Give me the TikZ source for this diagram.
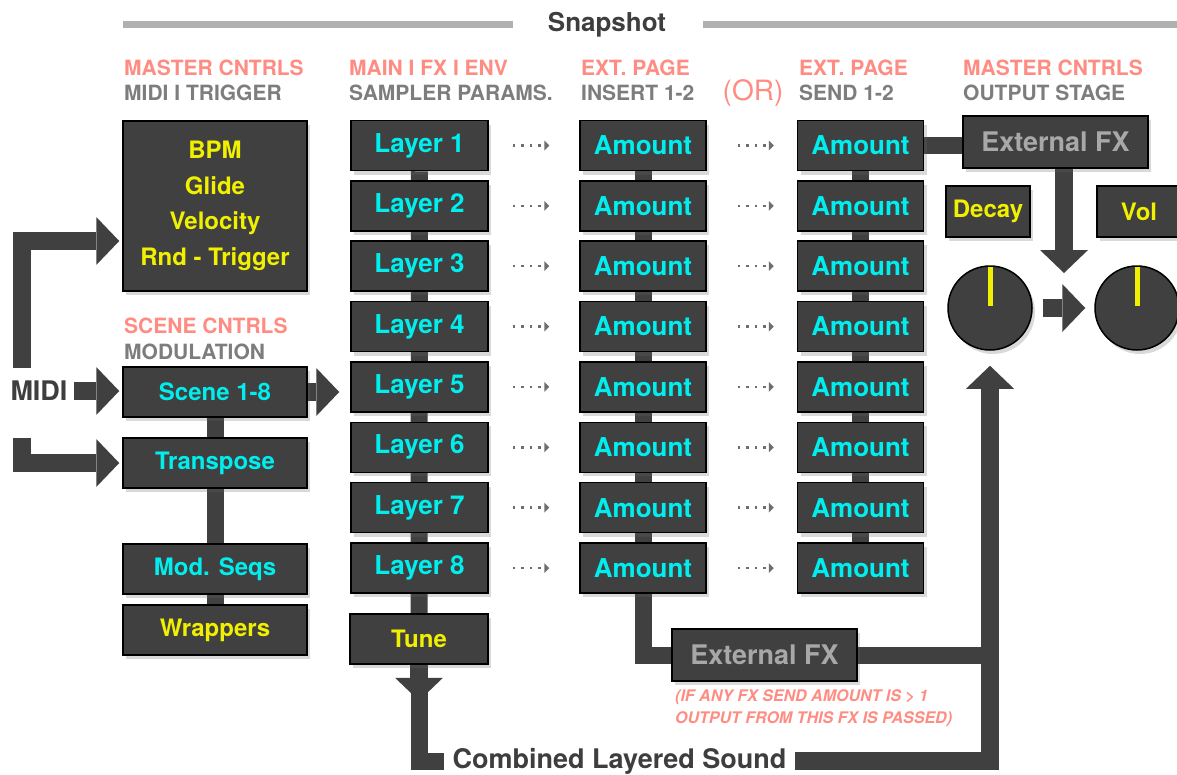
\documentclass[tikz,border=0pt]{standalone}
\usepackage{fontspec}
\setmainfont{TeX Gyre Heros}
\usetikzlibrary{arrows.meta, shadows, backgrounds}
\definecolor{boxgray}{RGB}{64,64,64}
\definecolor{darktext}{RGB}{62,62,62}
\definecolor{mysalmon}{RGB}{255,140,130}
\definecolor{mygray}{RGB}{125,125,125}
\definecolor{mycyan}{RGB}{0,238,238}
\definecolor{myyellow}{RGB}{240,240,0}
\definecolor{fxgray}{RGB}{168,168,168}
\definecolor{linegray}{RGB}{176,176,176}
\definecolor{dotgray}{RGB}{110,110,110}
\newcommand{\fsz}[1]{\fontsize{#1}{#1}\selectfont}
\tikzset{
  box/.style={draw=black, line width=1.5pt, fill=boxgray, inner sep=0pt,
    font=\bfseries\fsz{24},
    drop shadow={opacity=0.25, fill=black!60, shadow xshift=3pt, shadow yshift=-4pt}},
  layerbox/.style={box, minimum width=137pt, minimum height=50pt, text=mycyan, font=\bfseries\fsz{26}},
  amountbox/.style={box, minimum width=126pt, minimum height=50pt, text=mycyan, font=\bfseries\fsz{26}},
  leftbox/.style={box, minimum width=184pt, minimum height=50pt},
  fxbox/.style={box, minimum width=185pt, minimum height=52pt, text=fxgray, font=\bfseries\fsz{27}},
  knob/.style={circle, draw=black, line width=1.5pt, fill=boxgray, minimum size=84pt, inner sep=0pt,
    drop shadow={opacity=0.25, fill=black!60, shadow xshift=3pt, shadow yshift=-4pt}},
  knobmark/.style={draw=myyellow, line width=5pt},
  hdr/.style={anchor=west, inner sep=0pt, font=\bfseries\fsz{21}},
  bar/.style={draw=boxgray, line width=17pt, line join=miter},
  fatarrow/.style={draw=boxgray, line width=18pt, line join=miter,
    -{Triangle[length=23pt, width=48pt, line width=0pt]}},
  dotarrow/.style={draw=dotgray, line width=2.5pt, dash pattern=on 2.5pt off 6pt,
    -{Triangle[length=5pt, width=10pt, line width=0pt]}},
  topline/.style={draw=linegray, line width=7pt}
}

\begin{document}
\begin{tikzpicture}[x=1pt, y=-1pt]
\useasboundingbox (0,0) rectangle (1177,774);

% title
\node[font=\bfseries\fsz{26}, text=darktext, inner sep=0pt, anchor=base] (snap) at (607,31.7) {Snapshot};
\draw[topline] ([xshift=-35pt]snap.west) -- ++(-390,0);
\draw[topline] ([xshift=37pt]snap.east) -- ++(480,0);

% column headers
\node[hdr, text=mysalmon] at (124,68) {MASTER CNTRLS};
\node[hdr, text=mygray] at (124,93) {MIDI I TRIGGER};
\node[hdr, text=mysalmon] at (349,68) {MAIN I FX I ENV};
\node[hdr, text=mygray] at (349,93) {SAMPLER PARAMS.};
\node[hdr, text=mysalmon] at (581,68) {EXT. PAGE};
\node[hdr, text=mygray] at (581,93) {INSERT 1-2};
\node[text=mysalmon, inner sep=0pt, font=\fsz{28}] at (753,93) {(OR)};
\node[hdr, text=mysalmon] at (799,68) {EXT. PAGE};
\node[hdr, text=mygray] at (799,93) {SEND 1-2};
\node[hdr, text=mysalmon] at (963,68) {MASTER CNTRLS};
\node[hdr, text=mygray] at (963,93) {OUTPUT STAGE};
\node[hdr, text=mysalmon] at (124,326) {SCENE CNTRLS};
\node[hdr, text=mygray] at (124,352) {MODULATION};

% left column
\node[leftbox, minimum height=170pt, text=myyellow, align=center,
  font=\bfseries\fontsize{24}{35.7}\selectfont] (master) at (215,206) {BPM\\Glide\\Velocity\\Rnd - Trigger};
\node[leftbox, text=mycyan] (scene) at (215,392) {Scene 1-8};
\node[leftbox, text=mycyan] (transpose) at (215,463) {Transpose};
\node[leftbox, text=mycyan] (modseq) at (215,569) {Mod. Seqs};
\node[leftbox, text=myyellow] (wrappers) at (215,630) {Wrappers};
\node[font=\bfseries\fsz{27}, text=darktext, inner sep=0pt] (midi) at (39,391) {MIDI};

% layer, insert and send columns
\foreach \i in {1,...,8}{
  \pgfmathsetmacro\ry{145.5+60.36*(\i-1)}
  \node[layerbox] (l\i) at (419.5,\ry) {Layer \i};
  \node[amountbox] (a\i) at (643,\ry) {Amount};
  \node[amountbox] (s\i) at (860.5,\ry) {Amount};
  \draw[dotarrow, shorten <=24pt, shorten >=30pt] (l\i.east) -- (a\i.west);
  \draw[dotarrow, shorten <=31pt, shorten >=23pt] (a\i.east) -- (s\i.west);
}
\node[box, minimum width=138pt, minimum height=50pt, text=myyellow] (tune) at (419,639) {Tune};
\node[fxbox] (extfxlow) at (764.5,655) {External FX};
\node[text=mysalmon, inner sep=0pt, anchor=west, align=left,
  font=\bfseries\itshape\fontsize{16}{22}\selectfont] (note) at (675,708)
  {(IF ANY FX SEND AMOUNT IS > 1\\OUTPUT FROM THIS FX IS PASSED)};
\node[font=\bfseries\fsz{27}, text=darktext, inner xsep=8pt, inner ysep=0pt] (combined) at (619.5,761) {Combined Layered Sound};

% output stage
\node[fxbox] (extfxtop) at (1055.5,142) {External FX};
\node[box, minimum width=84pt, minimum height=51pt, text=myyellow] (decay) at (988,211.5) {Decay};
\node[box, minimum width=84pt, minimum height=51pt, text=myyellow] (vol) at (1139,211.5) {Vol};
\node[knob] (knobdecay) at (990,308) {};
\node[knob] (knobvol) at (1137,308) {};
\draw[knobmark] ([yshift=2pt]knobdecay.center) -- ([yshift=-2pt]knobdecay.north);
\draw[knobmark] ([yshift=2pt]knobvol.center) -- ([yshift=-2pt]knobvol.north);
\coordinate (fxin) at (1064,273);

\begin{scope}[on background layer]
  % connectors
  \draw[bar] (scene) -- (wrappers);
  \draw[bar] (l1) -- (tune);
  \draw[bar] (a1) |- (extfxlow.west);
  \draw[bar] (s1) -- (s8);
  \draw[bar] (s1.east) -- (s1.east -| extfxtop.west);
  \draw[bar] (extfxlow.east) -- (extfxlow.east -| knobdecay);
  \draw[bar] (tune.south) |- (combined.west);
  \draw[fatarrow] (tune.south) -- ([yshift=-36pt]tune.south);
  \draw[fatarrow, shorten >=15pt] (combined.east) -| (knobdecay.south);
  \draw[fatarrow] (extfxtop.south -| fxin) -- (fxin);
  \draw[fatarrow, shorten <=10pt, shorten >=9pt] (knobdecay) -- (knobvol);
  % midi inputs
  \draw[fatarrow, shorten >=3pt] ([xshift=-17.5pt, yshift=13pt]midi.north) |- ([yshift=-35pt]master.west);
  \draw[fatarrow, shorten <=6pt, shorten >=3pt] (midi.east) -- (midi.east -| scene.west);
  \draw[fatarrow, shorten >=3pt] ([xshift=-17.5pt, yshift=-37pt]midi.south) |- (transpose.west);
  \draw[fatarrow, shorten >=11pt] (scene.east) -- (scene.east -| l5.west);
\end{scope}
\end{tikzpicture}
\end{document}
